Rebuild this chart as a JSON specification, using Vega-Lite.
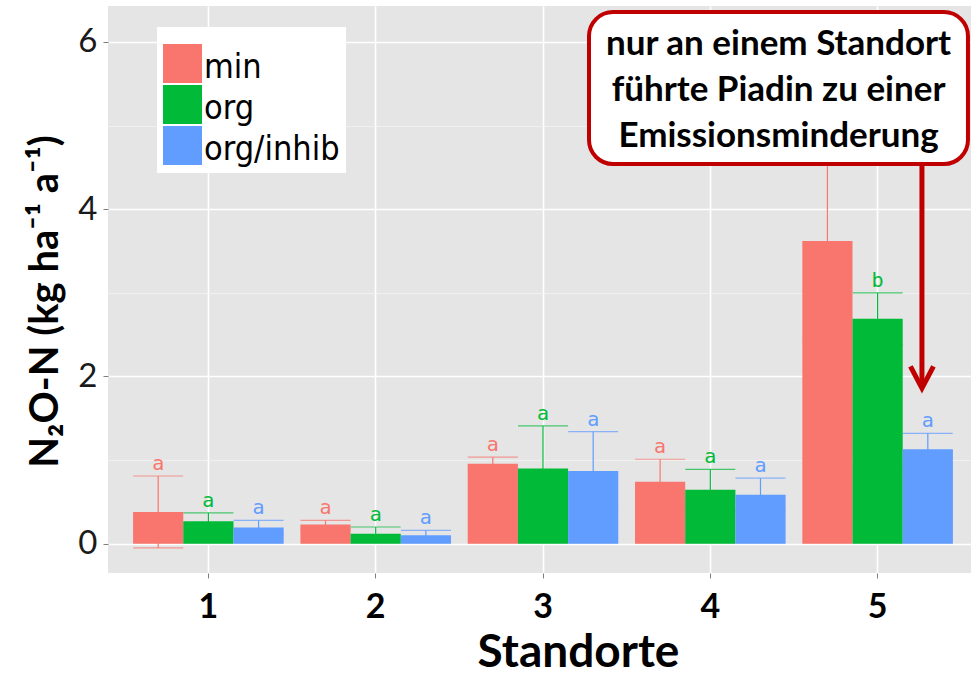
{
  "$schema": "https://vega.github.io/schema/vega-lite/v6.json",
  "width": 863,
  "height": 567,
  "autosize": {"type": "none"},
  "padding": {"left": 108, "top": 6, "right": 0, "bottom": 104},
  "background": "white",
  "config": {"view": {"fill": "#E5E5E5", "stroke": null}, "font": "Lato"},
  "layer": [
    {
      "data": {
        "values": [
          {"site": "1", "group": "min", "mean": 0.38, "lo": -0.05, "hi": 0.81, "letter": "a"},
          {"site": "1", "group": "org", "mean": 0.27, "lo": 0.17, "hi": 0.37, "letter": "a"},
          {"site": "1", "group": "org/inhib", "mean": 0.195, "lo": 0.11, "hi": 0.28, "letter": "a"},
          {"site": "2", "group": "min", "mean": 0.23, "lo": 0.18, "hi": 0.28, "letter": "a"},
          {"site": "2", "group": "org", "mean": 0.12, "lo": 0.04, "hi": 0.2, "letter": "a"},
          {"site": "2", "group": "org/inhib", "mean": 0.1, "lo": 0.04, "hi": 0.16, "letter": "a"},
          {"site": "3", "group": "min", "mean": 0.955, "lo": 0.875, "hi": 1.035, "letter": "a"},
          {"site": "3", "group": "org", "mean": 0.9, "lo": 0.39, "hi": 1.41, "letter": "a"},
          {"site": "3", "group": "org/inhib", "mean": 0.87, "lo": 0.4, "hi": 1.34, "letter": "a"},
          {"site": "4", "group": "min", "mean": 0.74, "lo": 0.47, "hi": 1.01, "letter": "a"},
          {"site": "4", "group": "org", "mean": 0.645, "lo": 0.4, "hi": 0.89, "letter": "a"},
          {"site": "4", "group": "org/inhib", "mean": 0.585, "lo": 0.385, "hi": 0.785, "letter": "a"},
          {"site": "5", "group": "min", "mean": 3.62, "lo": 2.44, "hi": 4.8, "letter": ""},
          {"site": "5", "group": "org", "mean": 2.69, "lo": 2.38, "hi": 3.0, "letter": "b"},
          {"site": "5", "group": "org/inhib", "mean": 1.13, "lo": 0.94, "hi": 1.32, "letter": "a"}
        ]
      },
      "encoding": {
        "x": {
          "field": "site",
          "type": "nominal",
          "scale": {"paddingInner": 0.1, "paddingOuter": 0.15, "range": [0, 870]},
          "axis": {
            "title": "Standorte",
            "bandPosition": 0.5,
            "labelFont": "Lato",
            "labelFontWeight": "bold",
            "labelFontSize": 34,
            "labelColor": "black",
            "labelAngle": 0,
            "labelPadding": 12,
            "tickSize": 5,
            "tickColor": "#7f7f7f",
            "grid": true,
            "gridColor": "white",
            "gridWidth": 1.6,
            "domain": false,
            "titleFont": "Lato",
            "titleFontWeight": "bold",
            "titleFontSize": 46,
            "titleColor": "black",
            "titleX": 470,
            "titleY": 93,
            "titleBaseline": "alphabetic"
          }
        },
        "xOffset": {
          "field": "group",
          "type": "nominal",
          "sort": ["min", "org", "org/inhib"],
          "scale": {"paddingInner": 0, "paddingOuter": 0}
        },
        "color": {
          "field": "group",
          "type": "nominal",
          "scale": {"domain": ["min", "org", "org/inhib"], "range": ["#F8766D", "#00BA38", "#619CFF"]},
          "legend": {
            "title": " ",
            "orient": "none",
            "legendX": 49,
            "legendY": 21,
            "fillColor": "white",
            "padding": 6,
            "symbolType": "square",
            "symbolSize": 1521,
            "symbolStrokeWidth": 0,
            "symbolOpacity": 1,
            "labelFont": "DejaVu Sans Condensed",
            "labelFontSize": 34,
            "labelColor": "black",
            "labelOffset": 2,
            "rowPadding": 0,
            "titleFontSize": 8,
            "titlePadding": 3,
            "encode": {
              "symbols": {
                "update": {
                  "fill": {"scale": "color", "field": "value"},
                  "fillOpacity": {"value": 1},
                  "strokeWidth": {"value": 0}
                }
              },
              "labels": {
                "update": {
                  "dy": {"value": 4}
                }
              }
            }
          }
        }
      },
      "layer": [
        {
          "mark": {"type": "rule", "strokeWidth": 1.2},
          "encoding": {
            "y": {
              "field": "lo",
              "type": "quantitative",
              "scale": {"domain": [-0.35, 6.43], "nice": false, "zero": false},
              "axis": {
                "title": "N₂O-N (kg ha⁻¹ a⁻¹)",
                "values": [0, 1, 2, 3, 4, 5, 6],
                "labelExpr": "datum.value % 2 === 0 ? format(datum.value, 'd') : ''",
                "labelFont": "Lato",
                "labelFontSize": 33,
                "labelColor": "#1a1a1a",
                "labelPadding": 6,
                "tickSize": 5,
                "tickColor": {"condition": {"test": "datum.value % 2 === 1", "value": "transparent"}, "value": "#7f7f7f"},
                "gridColor": {"condition": {"test": "datum.value % 2 === 1", "value": "#F2F2F2"}, "value": "white"},
                "gridWidth": {"condition": {"test": "datum.value % 2 === 1", "value": 0.8}, "value": 1.6},
                "domain": false,
                "titleFont": "Lato",
                "titleFontWeight": "bold",
                "titleFontSize": 40,
                "titleColor": "black",
                "titleX": -63,
                "titleY": 295,
                "titleBaseline": "middle"
              }
            },
            "y2": {"field": "hi"}
          }
        },
        {
          "mark": {"type": "tick", "size": 50, "thickness": 1.2},
          "encoding": {
            "y": {"field": "hi", "type": "quantitative"}
          }
        },
        {
          "mark": {"type": "tick", "size": 50, "thickness": 1.2},
          "encoding": {
            "y": {"field": "lo", "type": "quantitative"}
          }
        },
        {
          "mark": {"type": "bar", "opacity": 1},
          "encoding": {
            "y": {"field": "mean", "type": "quantitative"},
            "y2": {"datum": 0}
          }
        },
        {
          "mark": {"type": "text", "baseline": "bottom", "dy": -2, "font": "DejaVu Sans Mono", "fontSize": 20},
          "encoding": {
            "y": {"field": "hi", "type": "quantitative"},
            "text": {"field": "letter"}
          }
        }
      ]
    },
    {
      "data": {"values": [{}]},
      "layer": [
        {
          "mark": {"type": "rect", "fill": "white", "stroke": "#C00000", "strokeWidth": 4, "cornerRadius": 24},
          "encoding": {
            "x": {"datum": 3.275, "type": "quantitative", "scale": {"domain": [0.4, 5.6], "nice": false, "zero": false, "range": [0, 870]}, "axis": null},
            "x2": {"datum": 5.54},
            "y": {"datum": 6.358, "type": "quantitative"},
            "y2": {"datum": 4.54}
          }
        },
        {
          "mark": {
            "type": "text",
            "text": ["nur an einem Standort", "führte Piadin zu einer", "Emissionsminderung"],
            "font": "Lato",
            "fontWeight": "bold",
            "fontSize": 35,
            "lineHeight": 46,
            "align": "center",
            "baseline": "alphabetic",
            "color": "black"
          },
          "encoding": {
            "x": {"datum": 4.408, "type": "quantitative"},
            "y": {"datum": 5.844, "type": "quantitative"}
          }
        },
        {
          "mark": {"type": "rule", "stroke": "#C00000", "strokeWidth": 5},
          "encoding": {
            "x": {"datum": 5.265, "type": "quantitative"},
            "y": {"datum": 4.52, "type": "quantitative"},
            "y2": {"datum": 1.87}
          }
        },
        {
          "mark": {
            "type": "point",
            "shape": "M-1,-1.9L0,0L1,-1.9",
            "size": 529,
            "filled": false,
            "stroke": "#C00000",
            "strokeWidth": 5,
            "opacity": 1,
            "strokeJoin": "miter"
          },
          "encoding": {
            "x": {"datum": 5.265, "type": "quantitative"},
            "y": {"datum": 1.86, "type": "quantitative"}
          }
        }
      ]
    }
  ],
  "resolve": {"scale": {"x": "independent"}}
}
